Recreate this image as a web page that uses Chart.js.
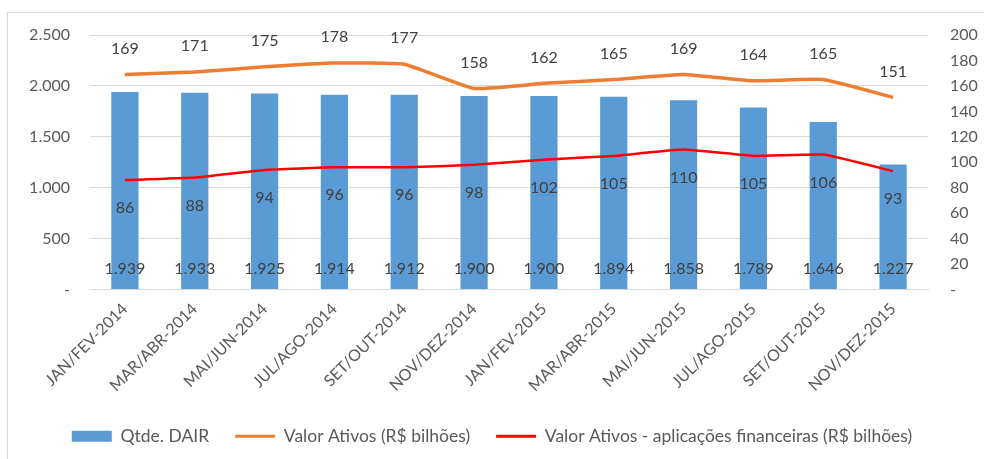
<!DOCTYPE html>
<html>
<head>
<meta charset="utf-8">
<script src="https://cdn.jsdelivr.net/npm/chart.js@4/dist/chart.umd.min.js"></script>
<style>
  html, body { margin: 0; padding: 0; background: #fff; }
  #wrap { position: relative; width: 984px; height: 459px; overflow: hidden; }
  #frame { position: absolute; left: 7px; top: 12px; width: 1000px; height: 500px; border: 1px solid #d9d9d9; pointer-events: none; }
  canvas { position: absolute; left: 0; top: 0; }
</style>
</head>
<body>
<div id="wrap">
  <div id="frame"></div>
  <canvas id="chart" width="984" height="459"></canvas>
</div>
<script>
const categories = [
  "JAN/FEV-2014", "MAR/ABR-2014", "MAI/JUN-2014", "JUL/AGO-2014",
  "SET/OUT-2014", "NOV/DEZ-2014", "JAN/FEV-2015", "MAR/ABR-2015",
  "MAI/JUN-2015", "JUL/AGO-2015", "SET/OUT-2015", "NOV/DEZ-2015"
];
const qtdeDair = [1939, 1933, 1925, 1914, 1912, 1900, 1900, 1894, 1858, 1789, 1646, 1227];
const valorAtivos = [169, 171, 175, 178, 177, 158, 162, 165, 169, 164, 165, 151];
const valorAtivosAplic = [86, 88, 94, 96, 96, 98, 102, 105, 110, 105, 106, 93];

const FONT = "Lato, 'Open Sans', sans-serif";

function fmt(v) {
  if (v === 0) return "-";
  return String(v).replace(/\B(?=(\d{3})+(?!\d))/g, ".");
}

// Data labels drawn by hand (no datalabels plugin available)
const valueLabels = {
  id: "valueLabels",
  afterDatasetsDraw(chart) {
    const ctx = chart.ctx;
    ctx.save();
    ctx.font = "16px " + FONT;
    ctx.fillStyle = "#404040";
    ctx.textAlign = "center";
    ctx.textBaseline = "middle";
    const base = chart.scales.y.getPixelForValue(0);
    chart.getDatasetMeta(0).data.forEach((bar, i) => {
      ctx.fillText(fmt(qtdeDair[i]), bar.x, base - 21);
    });
    chart.getDatasetMeta(1).data.forEach((pt, i) => {
      ctx.fillText(valorAtivos[i], pt.x, pt.y - 26);
    });
    chart.getDatasetMeta(2).data.forEach((pt, i) => {
      ctx.fillText(valorAtivosAplic[i], pt.x, pt.y + 28);
    });
    ctx.restore();
  },
};

const ctx = document.getElementById("chart").getContext("2d");
new Chart(ctx, {
  data: {
    labels: categories,
    datasets: [
      {
        type: "bar",
        label: "Qtde. DAIR",
        data: qtdeDair,
        backgroundColor: "#5b9bd5",
        borderWidth: 0,
        barPercentage: 0.78,
        categoryPercentage: 0.5,
        yAxisID: "y",
        order: 2,
      },
      {
        type: "line",
        label: "Valor Ativos (R$ bilhões)",
        data: valorAtivos,
        borderColor: "#ed7d31",
        backgroundColor: "#ed7d31",
        borderWidth: 3.5,
        pointRadius: 0,
        tension: 0.12,
        yAxisID: "y1",
        order: 1,
      },
      {
        type: "line",
        label: "Valor Ativos - aplicações financeiras (R$ bilhões)",
        data: valorAtivosAplic,
        borderColor: "#ff0000",
        backgroundColor: "#ff0000",
        borderWidth: 2.5,
        pointRadius: 0,
        tension: 0.12,
        yAxisID: "y1",
        order: 0,
      },
    ],
  },
  options: {
    responsive: false,
    animation: false,
    layout: { padding: { top: 35, bottom: 4, left: 0, right: 0 } },
    plugins: {
      tooltip: { enabled: false },
      legend: {
        position: "bottom",
        labels: {
          font: { family: FONT, size: 17.5 },
          color: "#595959",
          usePointStyle: true,
          pointStyleWidth: 40,
          boxHeight: 11,
          padding: 26,
          sort: (a, b) => a.datasetIndex - b.datasetIndex,
          generateLabels(chart) {
            const items = Chart.defaults.plugins.legend.labels.generateLabels(chart);
            items.forEach((it) => {
              const ds = chart.data.datasets[it.datasetIndex];
              if (ds.type === "bar") {
                it.pointStyle = "rect";
                it.lineWidth = 0;
              } else {
                it.pointStyle = "line";
                it.lineWidth = 3;
              }
            });
            return items;
          },
        },
      },
    },
    scales: {
      x: {
        offset: true,
        grid: { display: false },
        border: { display: true, color: "#d9d9d9" },
        ticks: {
          font: { family: FONT, size: 16 },
          color: "#595959",
          minRotation: 45,
          maxRotation: 45,
          padding: 2,
        },
        afterFit(scale) { scale.height = 112; },
      },
      y: {
        position: "left",
        min: 0,
        max: 2500,
        grid: { color: "#d9d9d9", drawTicks: false },
        border: { display: false },
        ticks: {
          stepSize: 500,
          font: { family: FONT, size: 16 },
          color: "#595959",
          padding: 20,
          callback: (v) => fmt(v),
        },
        afterFit(scale) { scale.width = 90; },
      },
      y1: {
        position: "right",
        min: 0,
        max: 200,
        grid: { display: false, drawTicks: false },
        border: { display: false },
        ticks: {
          stepSize: 20,
          font: { family: FONT, size: 16 },
          color: "#595959",
          padding: 22,
          callback: (v) => fmt(v),
        },
        afterFit(scale) { scale.width = 56; },
      },
    },
  },
  plugins: [valueLabels],
});
</script>
</body>
</html>
